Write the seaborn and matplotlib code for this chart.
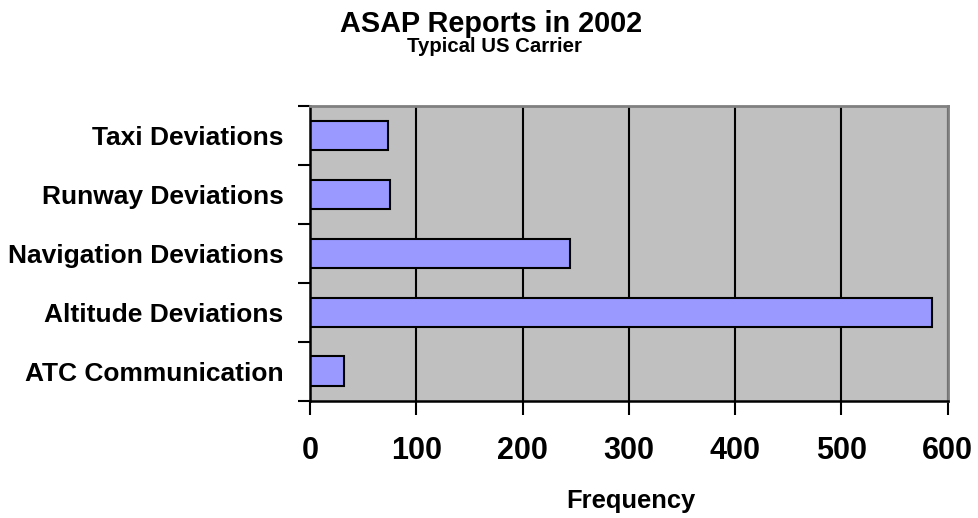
import matplotlib
matplotlib.use("Agg")
import matplotlib.pyplot as plt
import seaborn as sns
import pandas as pd

# ASAP report counts by category (top to bottom)
categories = ["Taxi Deviations", "Runway Deviations", "Navigation Deviations",
              "Altitude Deviations", "ATC Communication"]
frequency = [73, 75, 245, 585, 32]
x_ticks = [0, 100, 200, 300, 400, 500, 600]

title = "ASAP Reports in 2002"
subtitle = "Typical US Carrier"
x_label = "Frequency"

df = pd.DataFrame({"category": categories, "frequency": frequency})

sns.set_theme(style="white")
plt.rcParams["font.family"] = ["Liberation Sans", "DejaVu Sans"]
plt.rcParams["font.weight"] = "bold"
plt.rcParams["text.color"] = "black"
plt.rcParams["xtick.color"] = "black"
plt.rcParams["ytick.color"] = "black"
plt.rcParams["xtick.labelcolor"] = "black"
plt.rcParams["ytick.labelcolor"] = "black"

fig = plt.figure(figsize=(9.79, 5.18), dpi=100)
ax = fig.add_axes([310 / 979, 1 - 400.7 / 518, (947.7 - 310) / 979, (400.7 - 106) / 518])
ax.set_facecolor("#C0C0C0")

sns.barplot(data=df, x="frequency", y="category", order=categories, orient="h",
            color="#9999FF", saturation=1, width=0.5, edgecolor="black",
            linewidth=1.5, ax=ax, zorder=3)

ax.set_xlim(0, 600)
ax.set_ylim(len(categories) - 0.5, -0.5)

# vertical gridlines
ax.set_xticks(x_ticks)
ax.xaxis.grid(True, color="black", linewidth=1.5, zorder=1)
ax.yaxis.grid(False)
ax.set_axisbelow(True)

# category ticks sit between bars, labels centred on bars
ax.set_yticks([i - 0.5 for i in range(len(categories) + 1)])
ax.set_yticklabels([])
ax.set_yticks(range(len(categories)), minor=True)
ax.set_yticklabels(categories, minor=True, fontsize=19, fontweight="bold", color="black")
ax.tick_params(axis="y", which="minor", length=0, pad=19)
ax.tick_params(axis="y", which="major", length=9, width=1.5, color="black", direction="out", left=True)
ax.tick_params(axis="x", which="major", length=10, width=1.5, color="black", direction="out", bottom=True, pad=15.3)

ax.set_xticklabels([str(v) for v in x_ticks], fontsize=22, fontweight="bold", color="black")
ax.set_xlabel("")
ax.set_ylabel("")

for side in ["left", "bottom"]:
    ax.spines[side].set_color("black")
    ax.spines[side].set_linewidth(1.8)
    ax.spines[side].set_zorder(4)
for side in ["top", "right"]:
    ax.spines[side].set_color("#808080")
    ax.spines[side].set_linewidth(2)
    ax.spines[side].set_zorder(4)

fig.text(491 / 979, 1 - 32 / 518, title, ha="center", va="baseline", fontsize=20.8,
         fontweight="bold", color="black")
fig.text(494.5 / 979, 1 - 52 / 518, subtitle, ha="center", va="baseline", fontsize=14.7,
         fontweight="bold", color="black")
fig.text(631 / 979, 1 - 508 / 518, x_label, ha="center", va="baseline", fontsize=18.4,
         fontweight="bold", color="black")

fig.savefig("out.png", dpi=100, facecolor="white")
